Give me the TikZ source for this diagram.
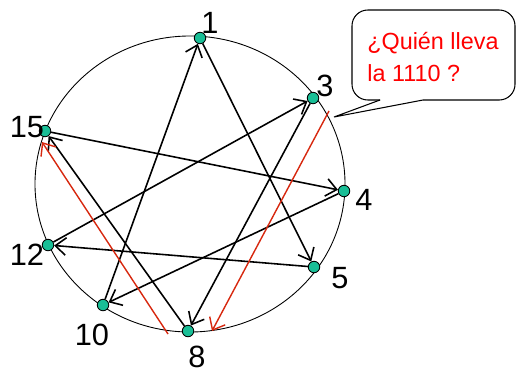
\documentclass[tikz,border=0pt]{standalone}
\usepackage{fontspec}
\setmainfont{Liberation Sans}
\usetikzlibrary{arrows.meta}
\definecolor{verdepunto}{RGB}{25,190,150}
\definecolor{rojoflecha}{RGB}{215,40,15}
\tikzset{
    punto/.style={circle, draw, fill=verdepunto, line width=0.5pt, inner sep=0pt, minimum size=0.23cm},
    etiqueta/.style={inner sep=0pt, font=\fontsize{17.5}{20}\selectfont},
    flecha/.style={->, line width=0.9pt},
    flecharoja/.style={->, line width=0.8pt, rojoflecha}
}
\begin{document}
\begin{tikzpicture}[x=0.02cm, y=-0.02cm, >={Straight Barb[length=6pt,width=10pt]}]
    \useasboundingbox (0,0) rectangle (516,372);
    % Anillo
    \draw[line width=0.5pt] (190,184) ellipse [x radius=155, y radius=148];

    % Nodos del anillo y sus numeros
    \foreach \n/\x/\y/\lx/\ly in {1/200/38/210/23, 3/313/98/325/86, 4/344/191/364/200,
        5/314/267/340/278, 8/188/331/197/357, 10/103/305/92/335,
        12/48/245/27/255, 15/45/131/27/127} {
        \node[punto] (p\n) at (\x,\y) {};
        \node[etiqueta] (e\n) at (\lx,\ly) {\n};
    }

    % Cuerdas del anillo
    \draw[flecha] (p10) -- (p1);
    \draw[flecha] (p1) -- (p5);
    \draw[flecha] (p5) -- (p12);
    \draw[flecha] (p12) -- (p3);
    \draw[flecha] (p3) -- (p8);
    \draw[flecha] (p8) -- (p15);
    \draw[flecha] (p15) -- (p4);
    \draw[flecha] (p4) -- (p10);

    % Busqueda
    \coordinate (r1) at (329,111);
    \coordinate (r2) at (212,331);
    \coordinate (r3) at (168,334);
    \coordinate (r4) at (42,142);
    \draw[flecharoja] (r1) -- (r2);
    \draw[flecharoja] (r3) -- (r4);

    % Bocadillo
    \coordinate (punta) at (334,117);
    \draw[line width=0.6pt, fill=white, rounded corners=9pt] (380,100) -- (352,100) -- (352,10)
        -- (515,10) -- (515,100) -- (423,100);
    \draw[line width=0.6pt] (423,100) -- (punta) -- (380,100);
    \node[anchor=west, align=left, text=red, inner sep=0pt,
        font=\fontsize{13.3}{18.7}\selectfont] (pregunta) at (367,57)
        {¿Quién lleva\\la 1110 ?};
\end{tikzpicture}
\end{document}
